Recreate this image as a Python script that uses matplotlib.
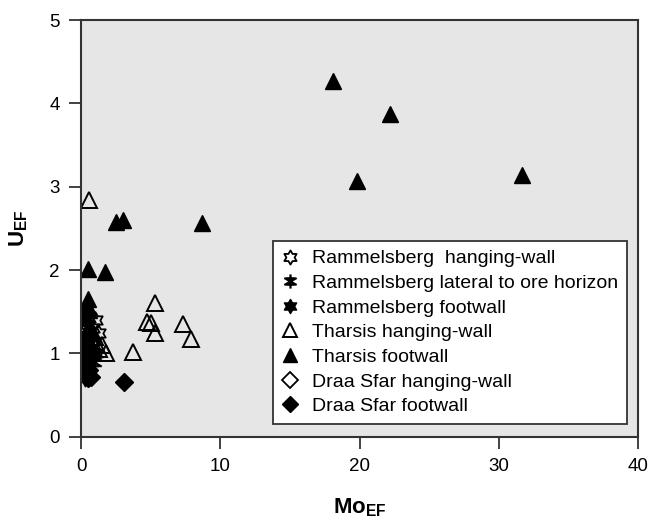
import numpy as np
import matplotlib.pyplot as plt
from matplotlib.path import Path

plt.rcParams['font.family'] = ['Liberation Sans', 'DejaVu Sans']
plt.rcParams['mathtext.fontset'] = 'custom'
plt.rcParams['mathtext.rm'] = 'Liberation Sans'
plt.rcParams['mathtext.bf'] = 'Liberation Sans:bold'

# Mo_EF, U_EF for each group
ramm_hw_x = [0.5, 1.0, 0.3, 0.8, 1.2]
ramm_hw_y = [1.42, 1.40, 1.35, 1.30, 1.25]
ramm_lat_x = [0.4, 0.7, 0.2, 0.9, 0.5, 1.1]
ramm_lat_y = [1.10, 1.05, 0.95, 0.90, 0.85, 1.00]
ramm_fw_x = [0.2, 0.4, 0.3, 0.6, 0.1, 0.5, 0.3]
ramm_fw_y = [0.80, 0.90, 1.00, 0.95, 0.85, 0.75, 0.70]
thar_hw_x = [0.6, 5.3, 4.7, 5.0, 5.3, 7.3, 7.9, 3.7, 0.2, 0.4, 1.0, 1.5, 1.8, 1.3, 0.8, 0.3]
thar_hw_y = [2.84, 1.60, 1.38, 1.36, 1.24, 1.35, 1.17, 1.02, 1.42, 1.35, 1.20, 1.10, 1.00, 1.05, 1.15, 1.28]
thar_fw_x = [18.1, 22.2, 19.8, 31.7, 8.7, 2.5, 3.0, 0.5, 1.7, 0.5, 0.4, 0.6, 0.3, 0.5, 0.8, 0.2, 0.7, 0.4, 0.3]
thar_fw_y = [4.27, 3.87, 3.07, 3.14, 2.57, 2.58, 2.60, 2.01, 1.98, 1.65, 1.58, 1.52, 1.45, 1.30, 1.25, 1.15, 1.10, 1.02, 0.95]
draa_hw_x = [0.3, 0.6]
draa_hw_y = [1.05, 0.98]
draa_fw_x = [3.1, 0.5, 0.4, 0.6, 0.3, 0.5, 0.2, 0.7]
draa_fw_y = [0.66, 0.70, 0.75, 0.80, 0.88, 0.95, 1.00, 0.72]

# hexagram marker (star of david outline)
ang = np.deg2rad(np.arange(0, 360, 30) + 90)
rad = np.where(np.arange(12) % 2 == 0, 1.0, 0.58)
pts = np.column_stack([rad * np.cos(ang), rad * np.sin(ang)])
hexa = Path(np.vstack([pts, pts[:1]]), closed=True)

# starburst marker for the lateral samples: 6 rays + cross bars
verts = []
codes = []
for a in np.deg2rad([90, 30, 150]):
    verts += [[np.cos(a), np.sin(a)], [-np.cos(a), -np.sin(a)]]
    codes += [Path.MOVETO, Path.LINETO]
for yy in [0.45, -0.45]:
    verts += [[-0.6, yy], [0.6, yy]]
    codes += [Path.MOVETO, Path.LINETO]
burst = Path(verts, codes)

fig = plt.figure(figsize=(6.49, 5.2), dpi=100)
ax = fig.add_axes([0.125, 0.160, 0.858, 0.8015])
ax.set_facecolor('#e6e6e6')

ms = 12
ax.plot(draa_hw_x, draa_hw_y, 'D', ms=9, mfc='none', mec='k', mew=1.3, ls='none', label='Draa Sfar hanging-wall')
ax.plot(thar_hw_x, thar_hw_y, '^', ms=ms, mfc='none', mec='k', mew=1.4, ls='none', label='Tharsis hanging-wall')
ax.plot(ramm_hw_x, ramm_hw_y, marker=hexa, ms=ms, mfc='none', mec='k', mew=1.3, ls='none', label='Rammelsberg  hanging-wall')
ax.plot(ramm_lat_x, ramm_lat_y, marker=burst, ms=ms, mfc='none', mec='k', mew=1.6, ls='none', label='Rammelsberg lateral to ore horizon')
ax.plot(ramm_fw_x, ramm_fw_y, marker=hexa, ms=ms, mfc='k', mec='k', ls='none', label='Rammelsberg footwall')
ax.plot(thar_fw_x, thar_fw_y, '^', ms=ms, mfc='k', mec='k', ls='none', label='Tharsis footwall')
ax.plot(draa_fw_x, draa_fw_y, 'D', ms=9, mfc='k', mec='k', ls='none', label='Draa Sfar footwall')

ax.set_xlim(0, 40)
ax.set_ylim(0, 5)
ax.set_xticks([0, 10, 20, 30, 40])
ax.set_yticks([0, 1, 2, 3, 4, 5])
ax.tick_params(direction='out', length=8.5, width=1.3, labelsize=13.5, color='#333333', pad=7)
for s in ax.spines.values():
    s.set_color('#333333')
    s.set_linewidth(1.5)

ax.set_xlabel(r'$\mathbf{Mo_{EF}}$', fontsize=16, labelpad=15)
ax.set_ylabel(r'$\mathbf{U_{EF}}$', fontsize=16, labelpad=14)

h, l = ax.get_legend_handles_labels()
order = ['Rammelsberg  hanging-wall', 'Rammelsberg lateral to ore horizon', 'Rammelsberg footwall',
         'Tharsis hanging-wall', 'Tharsis footwall', 'Draa Sfar hanging-wall', 'Draa Sfar footwall']
hd = dict(zip(l, h))
leg = ax.legend([hd[k] for k in order], order, loc='lower right', bbox_to_anchor=(0.98, 0.031),
                fontsize=14, frameon=True, fancybox=False, edgecolor='#333333',
                handletextpad=0.75, labelspacing=0.36, markerscale=0.85, borderpad=0.45,
                handlelength=0.8, borderaxespad=0)
leg.get_frame().set_linewidth(1.3)
leg.get_frame().set_facecolor('white')
leg.get_frame().set_alpha(1)

fig.savefig('out.png', dpi=100)
